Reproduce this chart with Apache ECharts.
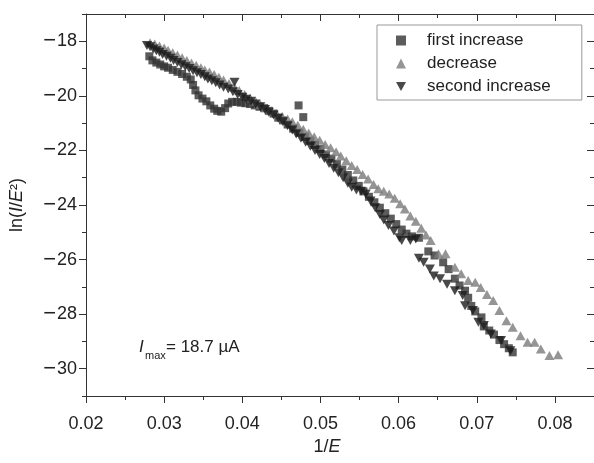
<!DOCTYPE html>
<html>
<head>
<meta charset="utf-8">
<script src="https://cdn.jsdelivr.net/npm/echarts@6/dist/echarts.min.js"></script>
<style>
    html, body { margin: 0; padding: 0; background: #fff; }
    #main { width: 594px; height: 463px; }
</style>
</head>
<body>
<div id="main"></div>
<script>
// [1/E, ln(I/E^2)]
var firstIncrease = [
    [0.0281, -18.55], [0.0285, -18.7], [0.0290, -18.78], [0.0295, -18.85], [0.0300, -18.92],
    [0.0305, -18.97], [0.0311, -19.05], [0.0317, -19.12], [0.0323, -19.2], [0.0329, -19.3],
    [0.0334, -19.4], [0.0337, -19.6], [0.0340, -19.8], [0.0344, -19.98], [0.0349, -20.1],
    [0.0354, -20.2], [0.0359, -20.35], [0.0364, -20.47], [0.0368, -20.55], [0.0373, -20.58],
    [0.0378, -20.45], [0.0382, -20.28], [0.0387, -20.22], [0.0393, -20.22], [0.0398, -20.25],
    [0.0404, -20.27], [0.0410, -20.3], [0.0416, -20.35], [0.0422, -20.4], [0.0428, -20.45],
    [0.0434, -20.55], [0.0440, -20.65], [0.0446, -20.8], [0.0452, -20.9], [0.0458, -21.05],
    [0.0465, -21.2], [0.0472, -20.35], [0.0478, -20.78], [0.0473, -21.35], [0.0480, -21.5],
    [0.0487, -21.65], [0.0493, -21.8], [0.0500, -21.95], [0.0507, -22.15], [0.0514, -22.3],
    [0.0521, -22.5], [0.0528, -22.7], [0.0535, -22.9], [0.0542, -23.1], [0.0549, -23.3],
    [0.0555, -23.5], [0.0562, -23.7], [0.0569, -23.9], [0.0576, -24.1], [0.0583, -24.3],
    [0.0590, -24.5], [0.0597, -24.7], [0.0604, -24.9], [0.0610, -25.05], [0.0617, -25.15],
    [0.0626, -25.2], [0.0638, -25.7], [0.0646, -25.85], [0.0657, -26.1], [0.0664, -26.35],
    [0.0672, -26.7], [0.0678, -26.95], [0.0685, -27.14], [0.0689, -27.4], [0.0693, -27.7],
    [0.0698, -27.9], [0.0706, -28.12], [0.0709, -28.45], [0.0716, -28.6], [0.0722, -28.75],
    [0.0729, -28.95], [0.0735, -29.1], [0.0741, -29.25], [0.0746, -29.4]
];
var decrease = [
    [0.0282, -18.05], [0.0288, -18.1], [0.0294, -18.17], [0.0300, -18.25], [0.0305, -18.33],
    [0.0311, -18.42], [0.0317, -18.5], [0.0323, -18.6], [0.0329, -18.7], [0.0335, -18.8],
    [0.0341, -18.88], [0.0347, -18.97], [0.0352, -19.05], [0.0358, -19.13], [0.0364, -19.22],
    [0.0370, -19.32], [0.0376, -19.42], [0.0383, -19.55], [0.0390, -19.68], [0.0396, -19.8],
    [0.0403, -19.95], [0.0410, -20.08], [0.0417, -20.2], [0.0423, -20.32], [0.0430, -20.44],
    [0.0437, -20.55], [0.0444, -20.65], [0.0451, -20.75], [0.0458, -20.85], [0.0464, -20.95],
    [0.0471, -21.08], [0.0478, -21.22], [0.0485, -21.36], [0.0492, -21.5], [0.0499, -21.63],
    [0.0506, -21.78], [0.0513, -21.9], [0.0520, -22.05], [0.0526, -22.2], [0.0533, -22.38],
    [0.0540, -22.55], [0.0547, -22.7], [0.0554, -22.88], [0.0561, -23.05], [0.0568, -23.25],
    [0.0574, -23.4], [0.0581, -23.5], [0.0588, -23.6], [0.0595, -23.75], [0.0602, -23.95],
    [0.0608, -24.15], [0.0615, -24.4], [0.0622, -24.6], [0.0629, -24.85], [0.0635, -25.1],
    [0.0641, -25.3], [0.0651, -25.79], [0.0660, -25.79], [0.0672, -26.28], [0.0680, -26.52],
    [0.0689, -26.77], [0.0698, -26.83], [0.0705, -27.02], [0.0713, -27.28], [0.0721, -27.5],
    [0.0729, -27.87], [0.0738, -28.24], [0.0746, -28.48], [0.0756, -28.79], [0.0765, -29.03],
    [0.0774, -29.03], [0.0782, -29.28], [0.0793, -29.52], [0.0804, -29.49]
];
var secondIncrease = [
    [0.0278, -18.15], [0.0282, -18.2], [0.0286, -18.28], [0.0290, -18.35], [0.0294, -18.4],
    [0.0298, -18.48], [0.0303, -18.55], [0.0308, -18.62], [0.0312, -18.7], [0.0317, -18.78],
    [0.0322, -18.86], [0.0327, -18.93], [0.0332, -19.0], [0.0337, -19.08], [0.0342, -19.15],
    [0.0347, -19.22], [0.0352, -19.3], [0.0356, -19.38], [0.0361, -19.45], [0.0366, -19.52],
    [0.0371, -19.6], [0.0376, -19.68], [0.0382, -19.75], [0.0390, -19.5], [0.0388, -19.85],
    [0.0394, -19.95], [0.0400, -20.05], [0.0405, -20.12], [0.0411, -20.2], [0.0417, -20.3],
    [0.0423, -20.4], [0.0429, -20.5], [0.0434, -20.6], [0.0440, -20.7], [0.0446, -20.82],
    [0.0452, -20.95], [0.0458, -21.1], [0.0464, -21.25], [0.0469, -21.4], [0.0475, -21.55],
    [0.0481, -21.7], [0.0487, -21.85], [0.0493, -22.0], [0.0499, -22.15], [0.0505, -22.3],
    [0.0511, -22.48], [0.0517, -22.65], [0.0523, -22.82], [0.0529, -23.0], [0.0535, -23.2],
    [0.0540, -23.35], [0.0546, -23.45], [0.0552, -23.5], [0.0558, -23.6], [0.0564, -23.85],
    [0.0570, -24.1], [0.0576, -24.35], [0.0581, -24.55], [0.0587, -24.75], [0.0594, -24.95],
    [0.0601, -25.2], [0.0604, -25.3], [0.0615, -25.3], [0.0622, -25.25], [0.0626, -25.95],
    [0.0632, -26.1], [0.0640, -26.35], [0.0645, -26.6], [0.0653, -26.7], [0.0662, -26.9],
    [0.0672, -27.14], [0.0682, -27.32], [0.0685, -27.69], [0.0695, -27.87], [0.0702, -28.3],
    [0.0709, -28.42], [0.0718, -28.73], [0.0731, -28.97], [0.0743, -29.34]
];
var seriesNames = ['first increase', 'decrease', 'second increase'];
var xTicks = [0.02, 0.03, 0.04, 0.05, 0.06, 0.07, 0.08];
var xMinorTicks = [0.025, 0.035, 0.045, 0.055, 0.065, 0.075];
var yTicks = [-30, -28, -26, -24, -22, -20, -18];
var yMinorTicks = [-31, -29, -27, -25, -23, -21, -19, -17];
var imaxValue = '= 18.7 µA';

var FONT = '"Liberation Sans", Arial, sans-serif';
var AXIS_COLOR = '#333';
var TEXT_COLOR = '#222';
var DOWN_TRIANGLE = 'path://M0,0L10,0L5,9Z';

// one axis per side for major ticks (+labels) and one for minor ticks
function makeXAxis(position, ticks, len, main) {
    return {
        type: 'value',
        position: position,
        min: 0.02,
        max: 0.085,
        splitLine: {show: false},
        axisLine: {show: main, lineStyle: {color: AXIS_COLOR, width: 1}},
        axisTick: {
            show: true,
            inside: position === 'top',
            length: len,
            customValues: ticks,
            lineStyle: {color: AXIS_COLOR, width: 1}
        },
        axisLabel: {
            show: main && position === 'bottom',
            customValues: ticks,
            margin: 19,
            fontSize: 18,
            fontFamily: FONT,
            color: TEXT_COLOR,
            formatter: function (v) { return v.toFixed(2); }
        },
        name: main && position === 'bottom' ? '{t|1/}{i|E}' : '',
        nameLocation: 'middle',
        nameGap: 40,
        nameTextStyle: {
            padding: [0, 26, 0, 0],
            rich: {
                t: {fontSize: 18, fontFamily: FONT, color: TEXT_COLOR},
                i: {fontSize: 18, fontFamily: FONT, fontStyle: 'italic', color: TEXT_COLOR}
            }
        }
    };
}

function makeYAxis(position, ticks, len, main) {
    return {
        type: 'value',
        position: position,
        min: -31,
        max: -17,
        splitLine: {show: false},
        axisLine: {show: main, lineStyle: {color: AXIS_COLOR, width: 1}},
        axisTick: {
            show: true,
            inside: position === 'right',
            length: len,
            customValues: ticks,
            lineStyle: {color: AXIS_COLOR, width: 1}
        },
        axisLabel: {
            show: main && position === 'left',
            customValues: ticks,
            margin: 9,
            color: TEXT_COLOR,
            // wider minus, as in the picture
            formatter: function (v) { return (v < 0 ? '{m|\u2212}' : '') + '{n|' + Math.abs(v) + '}'; },
            rich: {
                m: {fontSize: 22, fontFamily: FONT, color: TEXT_COLOR, padding: [0, 1, 0, 0]},
                n: {fontSize: 18, fontFamily: FONT, color: TEXT_COLOR}
            }
        },
        name: main && position === 'left' ? '{t|ln(}{i|I}{t|/}{i|E}{t|²)}' : '',
        nameLocation: 'middle',
        nameGap: 60,
        nameTextStyle: {
            rich: {
                t: {fontSize: 18, fontFamily: FONT, color: TEXT_COLOR},
                i: {fontSize: 18, fontFamily: FONT, fontStyle: 'italic', color: TEXT_COLOR}
            }
        }
    };
}

var myChart = echarts.init(document.getElementById('main'), null, {renderer: 'canvas'});
var option = {
    backgroundColor: '#fff',
    animation: false,
    grid: {left: 83, top: 14, width: 514, height: 382},
    xAxis: [
        makeXAxis('bottom', xTicks, 7, true),
        makeXAxis('bottom', xMinorTicks, 4, false),
        makeXAxis('top', xTicks, 7, true),
        makeXAxis('top', xMinorTicks, 4, false)
    ],
    yAxis: [
        makeYAxis('left', yTicks, 7, true),
        makeYAxis('left', yMinorTicks, 4, false),
        makeYAxis('right', yTicks, 7, true),
        makeYAxis('right', yMinorTicks, 4, false)
    ],
    legend: {
        orient: 'vertical',
        left: 377,
        top: 25,
        padding: [7, 31, 5, 19],
        itemGap: 6,
        itemWidth: 10,
        itemHeight: 10,
        borderColor: '#999',
        borderWidth: 1,
        textStyle: {fontSize: 17, fontFamily: FONT, color: TEXT_COLOR, lineHeight: 17, padding: [0, 0, 0, 16]},
        data: [
            {name: seriesNames[0], icon: 'rect'},
            {name: seriesNames[1], icon: 'triangle'},
            {name: seriesNames[2], icon: DOWN_TRIANGLE}
        ]
    },
    graphic: [
        {type: 'text', left: 139, top: 339, style: {text: 'I', font: 'italic 17px ' + FONT, fill: TEXT_COLOR}},
        {type: 'text', left: 145, top: 350, style: {text: 'max', font: '11px ' + FONT, fill: TEXT_COLOR}},
        {type: 'text', left: 166, top: 339, style: {text: imaxValue, font: '17px ' + FONT, fill: TEXT_COLOR}}
    ],
    series: [
        {
            name: seriesNames[0],
            type: 'scatter',
            symbol: 'rect',
            symbolSize: 8,
            itemStyle: {color: '#333333'},
            data: firstIncrease
        },
        {
            name: seriesNames[1],
            type: 'scatter',
            symbol: 'triangle',
            symbolSize: [10, 9],
            itemStyle: {color: '#7a7a7a'},
            data: decrease
        },
        {
            name: seriesNames[2],
            type: 'scatter',
            symbol: DOWN_TRIANGLE,
            symbolSize: [10, 9],
            itemStyle: {color: '#1c1c1c'},
            data: secondIncrease
        }
    ]
};

myChart.setOption(option);
</script>
</body>
</html>
